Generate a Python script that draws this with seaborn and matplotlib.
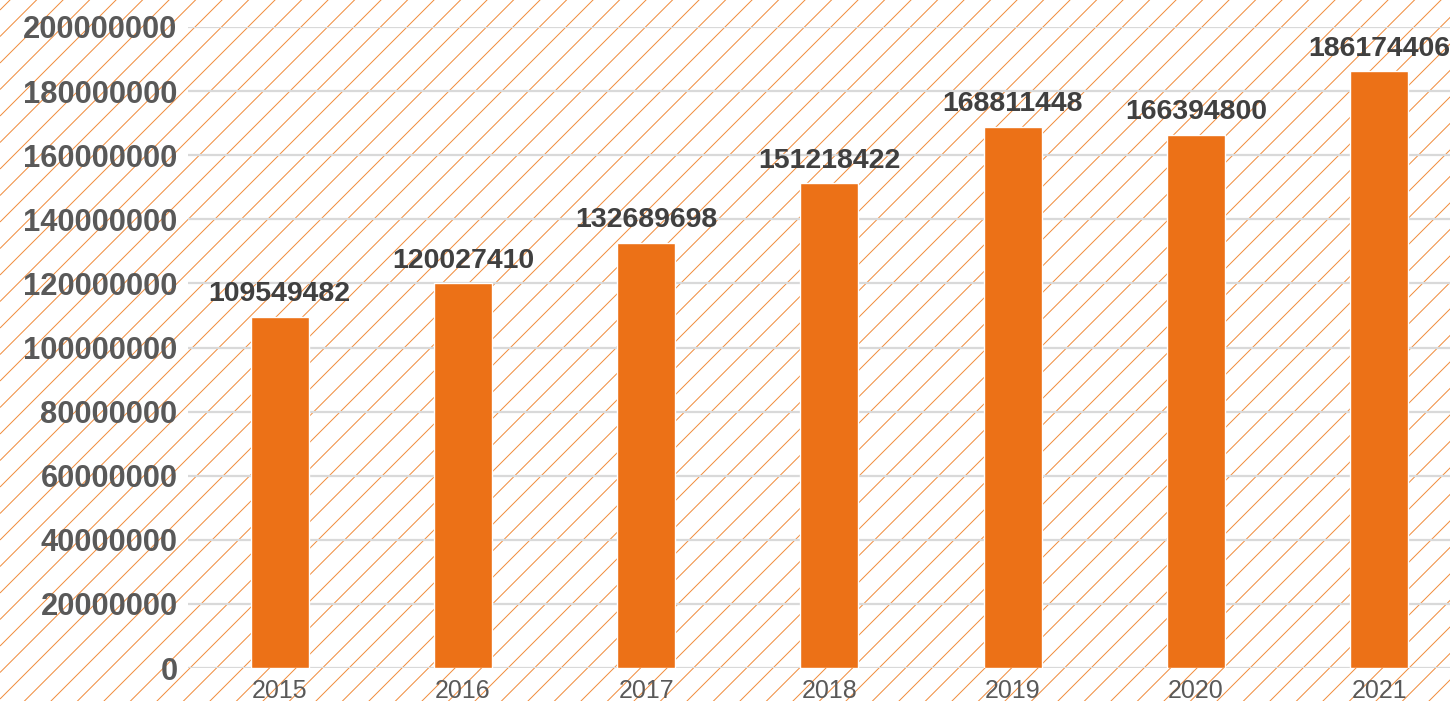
#!/usr/bin/python3

# libraries
import matplotlib
matplotlib.use('Agg')

import matplotlib.pyplot as plt
import numpy as np
import pandas as pd
import seaborn as sns
from matplotlib.ticker import FuncFormatter, MultipleLocator

# ------------------------------------------------------------
#     Data
# ------------------------------------------------------------

years = ["2015", "2016", "2017", "2018", "2019", "2020", "2021"]
values = [109549482, 120027410, 132689698, 151218422, 168811448, 166394800, 186174406]

bar_color = "#EC7117"
hatch_color = "#F08A3A"
grid_color = "#D9D9D9"
tick_color = "#595959"
label_color = "#404040"

# ------------------------------------------------------------
#     Plot
# ------------------------------------------------------------

sns.set_theme(style="white")
plt.rcParams['font.family'] = ['Liberation Sans', 'DejaVu Sans']

W, H = 1450, 701
fig = plt.figure(figsize=(W / 100, H / 100), dpi=100)
fig.patch.set_facecolor("white")

# Background: diagonal hatch over the whole figure
bg = fig.add_axes([0, 0, 1, 1], zorder=0)
bg.set_xlim(0, W)
bg.set_ylim(0, H)
bg.axis("off")
step = 26.5
for c in np.arange(10 - 30 * step, W + H + step, step):
    xs = np.array([0, W + H])
    bg.plot(xs, xs + H - c, color=hatch_color, lw=0.7, solid_capstyle="butt")

# Main axes
ax = fig.add_axes([188 / W, 33 / H, 1 - 188 / W, 1 - 33 / H - 27 / H], zorder=1)
ax.patch.set_alpha(0)

df = pd.DataFrame({"year": years, "value": values})
sns.barplot(data=df, x="year", y="value", color=bar_color, saturation=1,
            width=0.316, ax=ax, zorder=3)

ax.set_xlim(-0.5, 6.387)
ax.set_ylim(0, 200000000)
ax.yaxis.set_major_locator(MultipleLocator(20000000))
ax.yaxis.set_major_formatter(FuncFormatter(lambda v, p: "%d" % v))
ax.yaxis.grid(True, color=grid_color, lw=1.6, zorder=1)
ax.set_axisbelow(True)
for s in ax.spines.values():
    s.set_visible(False)

ax.set_xlabel("")
ax.set_ylabel("")
ax.tick_params(axis="y", length=0, pad=7.5, labelsize=22.2, labelcolor=tick_color)
ax.tick_params(axis="x", length=0, pad=8, labelsize=18, labelcolor=tick_color)
for t in ax.get_yticklabels():
    t.set_fontweight("bold")

ax.bar_label(ax.containers[0], labels=["%d" % v for v in values], padding=7,
             fontsize=20.5, fontweight="bold", color=label_color, clip_on=False)

plt.savefig("out.png", dpi=100)
